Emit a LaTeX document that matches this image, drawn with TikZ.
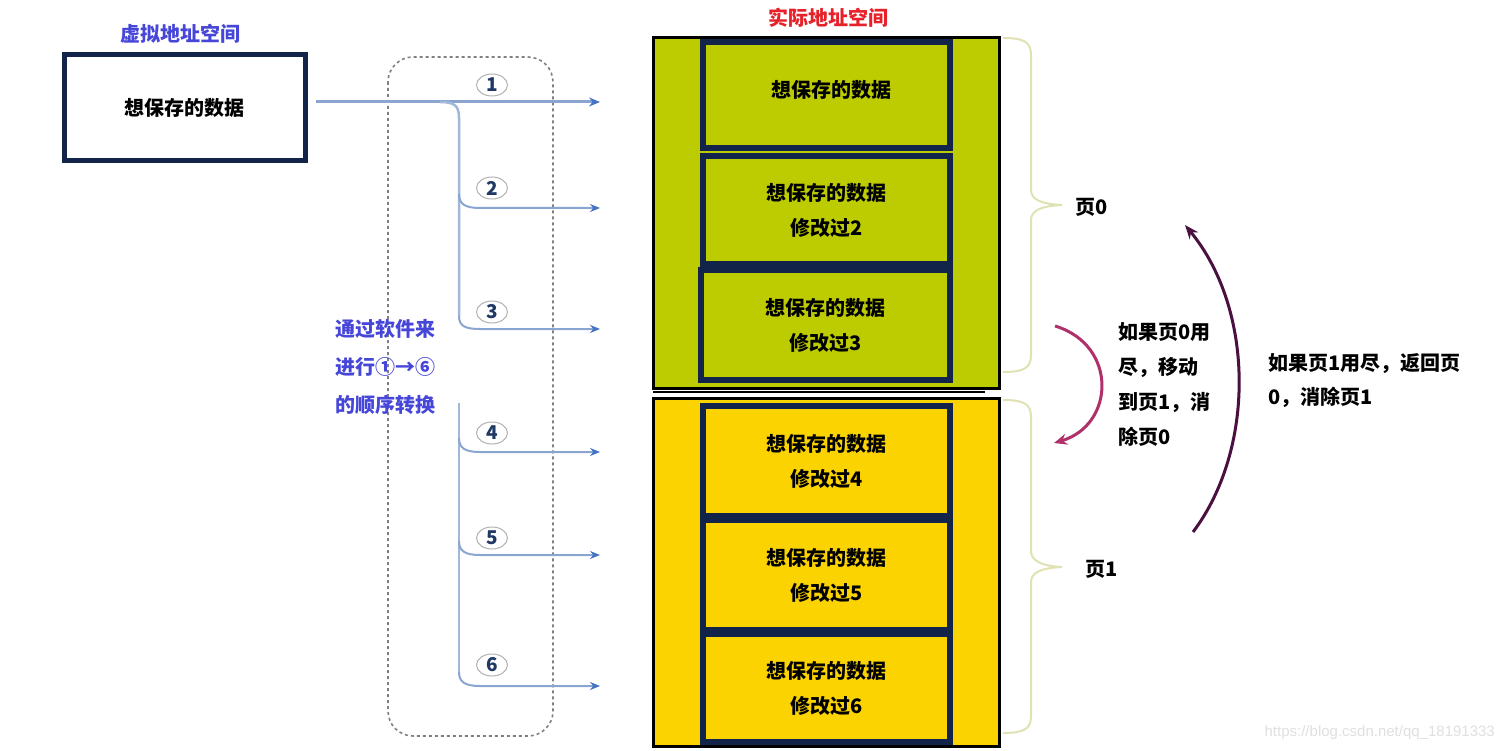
\documentclass[tikz,border=0pt]{standalone}
\usepackage{fontspec}
\setmainfont{Noto Sans CJK SC}
\newfontfamily\wmfont{Liberation Sans}
\usetikzlibrary{arrows.meta,shapes.geometric}
\definecolor{navy}{HTML}{12244A}
\definecolor{flow}{HTML}{8AA6D0}
\definecolor{tipblue}{HTML}{4472C4}
\definecolor{ttlblue}{HTML}{4646D8}
\definecolor{ttlred}{HTML}{E8202A}
\definecolor{pgreen}{HTML}{BDCC00}
\definecolor{pyellow}{HTML}{FAD300}
\definecolor{bracec}{HTML}{E0E2B4}
\definecolor{magarc}{HTML}{B0306A}
\definecolor{purparc}{HTML}{4A1040}
\definecolor{numc}{HTML}{1F3864}
\begin{document}
\begin{tikzpicture}[x=1pt,y=-1pt,
  txt/.style={font=\fontsize{20}{35}\selectfont\bfseries, text=black, inner sep=0pt},
  cell/.style={draw=navy, line width=6pt, minimum width=247pt, minimum height=108pt,
     align=center, inner sep=0pt, font=\fontsize{20}{35}\selectfont\bfseries, text=black},
  page/.style={draw=black, line width=3pt},
  flowline/.style={draw=flow, line width=2pt, -{Stealth[length=10pt,width=8pt,color=tipblue]}},
  trunk/.style={draw=flow!80, line width=2.5pt},
  num/.style={ellipse, draw=gray!60, fill=white, line width=1pt, minimum width=31pt, minimum height=22pt,
     inner sep=0pt, font=\fontsize{19}{19}\selectfont\bfseries, text=numc},
  brc/.style={draw=bracec, line width=2pt},
  bluetxt/.style={font=\fontsize{20}{38}\selectfont\bfseries, text=ttlblue, inner sep=0pt, align=left}
]
\useasboundingbox (0,0) rectangle (1503,751);
\fill[white] (0,0) rectangle (1503,751);

% titles
\node[txt, text=ttlblue] (vtitle) at (180,34) {虚拟地址空间};
\node[txt, text=ttlred] (ptitle) at (828,18) {实际地址空间};

% virtual box
\node[draw=navy, line width=5pt, fill=white, minimum width=241pt, minimum height=106pt,
  font=\fontsize{20}{24}\selectfont\bfseries, inner sep=0pt] (vbox) at (184.5,108) {想保存的数据};

% dotted software frame
\draw[gray, line width=1.6pt, dash pattern=on 3pt off 3pt, rounded corners=25pt] (388,57) rectangle (553,736);

% page 0 (green)
\fill[pgreen] (653,38) rectangle (999,388);
\draw[page] (653,38) rectangle (999,388);
\draw[black, line width=2pt] (653,392) -- (985,392);
\node[cell, minimum height=106pt] (c1) at (826.5,95) {};
\node[txt] (c1t) at (831,90) {想保存的数据};
\node[cell, minimum height=108pt] (c2) at (826.5,210) {想保存的数据\\修改过2};
\node[cell, minimum width=249pt, minimum height=110pt] (c3) at (825.5,325) {想保存的数据\\修改过3};

% page 1 (yellow)
\fill[pyellow] (653,398) rectangle (999,746);
\draw[page] (653,398) rectangle (999,746);
\node[cell, minimum height=110pt] (c4) at (826.5,461) {想保存的数据\\修改过4};
\node[cell, minimum height=110pt] (c5) at (826.5,575) {想保存的数据\\修改过5};
\node[cell, minimum height=108pt] (c6) at (826.5,688) {想保存的数据\\修改过6};

% flow lines
\coordinate (s) at (316,102);
\coordinate (e1) at (600,102);
\coordinate (e2) at (600,208);
\coordinate (e3) at (600,329);
\coordinate (e4) at (600,452);
\coordinate (e5) at (600,555);
\coordinate (e6) at (600,686);
\draw[draw=flow, line width=3pt, -{Stealth[length=11pt,width=9pt,color=tipblue]}] (s) -- (e1);
\draw[trunk] (440,102) .. controls (455,102) and (459,106) .. (459,118) -- (459,316);
\draw[flowline] (459,316) .. controls (459,326) and (465,329) .. (480,329) -- (e3);
\draw[flowline] (459,194) .. controls (459,204) and (465,208) .. (480,208) -- (e2);
\draw[trunk] (459,403) -- (459,672);
\draw[flowline] (459,672) .. controls (459,682) and (465,686) .. (480,686) -- (e6);
\draw[flowline] (459,438) .. controls (459,448) and (465,452) .. (480,452) -- (e4);
\draw[flowline] (459,541) .. controls (459,551) and (465,555) .. (480,555) -- (e5);

% circled numbers
\node[num] (n1) at (492,85) {1};
\node[num] (n2) at (492,188) {2};
\node[num] (n3) at (492,312) {3};
\node[num] (n4) at (492,433) {4};
\node[num] (n5) at (492,538) {5};
\node[num] (n6) at (492,665) {6};

% software text
\node[bluetxt, anchor=west] (soft) at (335,367) {通过软件来\\进行①→⑥\\的顺序转换};

% braces
\draw[brc] (1003,38) .. controls (1024,38) and (1031,42) .. (1031,55) -- (1031,190)
  .. controls (1031,199) and (1040,204) .. (1062,205)
  .. controls (1040,206) and (1031,211) .. (1031,220) -- (1031,355)
  .. controls (1031,368) and (1024,372) .. (1003,372);
\node[txt] (p0) at (1092,207) {页0};
\draw[brc] (1003,400) .. controls (1024,400) and (1031,404) .. (1031,417) -- (1031,551)
  .. controls (1031,560) and (1040,566) .. (1062,567)
  .. controls (1040,568) and (1031,573) .. (1031,582) -- (1031,716)
  .. controls (1031,729) and (1024,733) .. (1003,733);
\node[txt] (p1) at (1102,569) {页1};

% arcs
\coordinate (m1) at (1055,326);
\coordinate (m2) at (1054,443);
\draw[magarc, line width=3pt, -{Stealth[length=13pt,width=11pt]}] (m1) .. controls (1118,345) and (1115,425) .. (m2);
\coordinate (q1) at (1193,532);
\coordinate (q2) at (1185,225);
\draw[purparc, line width=3pt, -{Stealth[length=14pt,width=11pt]}] (q1) .. controls (1255,450) and (1255,310) .. (q2);

\node[txt, anchor=west, align=left] (t1) at (1118,384) {如果页0用\\尽，移动\\到页1，消\\除页0};
\node[txt, anchor=west, align=left, font=\fontsize{20}{34}\selectfont\bfseries] (t2) at (1268,381) {如果页1用尽，返回页\\0，消除页1};

% watermark
\node[text=black!12, font=\wmfont\fontsize{15}{15}\selectfont, anchor=east, inner sep=0pt] (wm) at (1495,733) {https://blog.csdn.net/qq\_18191333};
\end{tikzpicture}
\end{document}
